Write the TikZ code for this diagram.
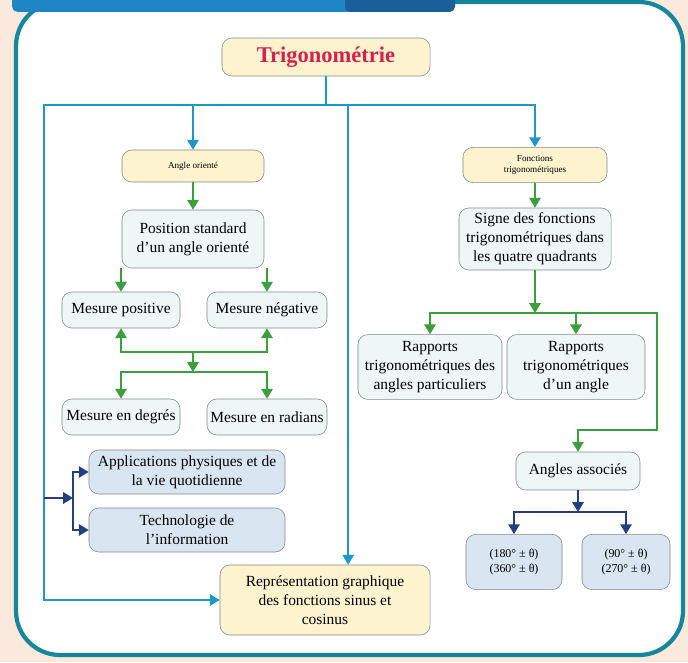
\documentclass[tikz,border=0pt]{standalone}
\usepackage{fontspec}
\setmainfont{Liberation Serif}
\usetikzlibrary{arrows.meta}
\definecolor{fond}{HTML}{FCE9DD}
\definecolor{cadre}{HTML}{16879A}
\definecolor{bandeau}{HTML}{1F86C6}
\definecolor{bandeaufonce}{HTML}{1A5F9A}
\definecolor{lignebleue}{HTML}{1E96C8}
\definecolor{vert}{HTML}{3C9E3C}
\definecolor{marine}{HTML}{243F7E}
\definecolor{bord}{HTML}{7D8B8B}
\definecolor{jaunec}{HTML}{FDF4CF}
\definecolor{clairc}{HTML}{EEF7F6}
\definecolor{bleuc}{HTML}{D9E6F2}
\definecolor{titre}{HTML}{D6204E}
\begin{document}
\begin{tikzpicture}[x=0.025cm, y=-0.025cm,
    boite/.style={draw=bord, rounded corners=7pt, align=center, inner sep=1pt,
                  font=\fontsize{11}{13.5}\selectfont},
    jaune/.style={boite, fill=jaunec},
    clair/.style={boite, fill=clairc},
    bleu/.style={boite, fill=bleuc},
    petit/.style={font=\fontsize{6.5}{8}\selectfont},
    moyen/.style={font=\fontsize{8.5}{11}\selectfont},
    fbleu/.style={-{Triangle[width=8pt,length=7pt]}, line width=1.6pt, draw=lignebleue},
    fvert/.style={-{Triangle[width=8pt,length=7pt]}, line width=1.6pt, draw=vert},
    fmarine/.style={-{Triangle[width=8pt,length=7pt]}, line width=1.6pt, draw=marine}
  ]
  \useasboundingbox (0,0) rectangle (688,662);
  \fill[fond] (0,0) rectangle (688,662);
  \draw[cadre, line width=3pt, fill=white, rounded corners=1.1cm] (16,2) rectangle (683,655);
  \fill[bandeau, rounded corners=4pt] (12,-20) rectangle (455,12);
  \fill[bandeaufonce, rounded corners=4pt] (345,-20) rectangle (455,12);

  % titre
  \node[jaune, minimum width=5.2cm, minimum height=0.95cm,
        font=\fontsize{16}{18}\selectfont\bfseries, text=titre] (trigo) at (326,57) {Trigonométrie};

  % partie gauche
  \node[jaune, petit, minimum width=3.55cm, minimum height=0.8cm] (angle) at (193,166) {Angle orienté};
  \node[clair, minimum width=3.55cm, minimum height=1.45cm] (position) at (193,239)
    {Position standard\\ d'un angle orienté};
  \node[clair, minimum width=2.95cm, minimum height=0.9cm] (mpos) at (121,310) {Mesure positive};
  \node[clair, minimum width=3.0cm, minimum height=0.9cm] (mneg) at (267,310) {Mesure négative};
  \node[clair, minimum width=2.95cm, minimum height=0.9cm] (mdeg) at (121,417) {Mesure en degrés};
  \node[clair, minimum width=3.0cm, minimum height=0.9cm] (mrad) at (267,417) {Mesure en radians};
  \node[bleu, minimum width=4.9cm, minimum height=1.1cm] (appli) at (187,472)
    {Applications physiques et de\\ la vie quotidienne};
  \node[bleu, minimum width=4.9cm, minimum height=1.1cm] (techno) at (187,530)
    {Technologie de\\ l'information};
  \node[jaune, minimum width=5.25cm, minimum height=1.75cm] (repr) at (325,600)
    {Représentation graphique\\ des fonctions sinus et\\ cosinus};

  % partie droite
  \node[jaune, petit, minimum width=3.6cm, minimum height=0.88cm] (fonc) at (535,165)
    {Fonctions\\ trigonométriques};
  \node[clair, minimum width=3.8cm, minimum height=1.55cm] (signe) at (535,239)
    {Signe des fonctions\\ trigonométriques dans\\ les quatre quadrants};
  \node[clair, minimum width=3.6cm, minimum height=1.62cm] (rap1) at (430,367)
    {Rapports\\ trigonométriques des\\ angles particuliers};
  \node[clair, minimum width=3.45cm, minimum height=1.62cm] (rap2) at (576,367)
    {Rapports\\ trigonométriques\\ d'un angle};
  \node[clair, minimum width=3.1cm, minimum height=0.95cm] (assoc) at (578,471) {Angles associés};
  \node[bleu, moyen, minimum width=2.4cm, minimum height=1.38cm] (ang1) at (514,562)
    {(180° ± θ)\\ (360° ± θ)};
  \node[bleu, moyen, minimum width=2.2cm, minimum height=1.38cm] (ang2) at (626,562)
    {(90° ± θ)\\ (270° ± θ)};

  % points de branchement
  \coordinate (j0) at (326,105);
  \coordinate (bordg) at (44,105);
  \coordinate (fourche) at (73,498);
  \coordinate (barre1) at (193,352);
  \coordinate (barre2) at (193,372);
  \coordinate (barre3) at (535,313);
  \coordinate (coude) at (657,430);
  \coordinate (barre4) at (578,512);

  % liaisons bleues
  \draw[line width=1.6pt, lignebleue] (trigo.south) -- (j0);
  \draw[fbleu] (j0) -| (angle.north);
  \draw[fbleu] (j0) -| (fonc.north);
  \draw[fbleu] (j0) -| ([xshift=0.58cm]repr.north);
  \draw[fbleu] (j0) -- (bordg) -- (bordg |- repr.west) -- (repr.west);

  % liaisons vertes
  \draw[fvert] (angle) -- (position);
  \draw[fvert] (mpos.north |- position.south) -- (mpos.north);
  \draw[fvert] (mneg.north |- position.south) -- (mneg.north);
  \draw[fvert] (barre1) -| (mpos.south);
  \draw[fvert] (barre1) -| (mneg.south);
  \draw[fvert] (barre1) -- (barre2);
  \draw[fvert] (barre2) -| (mdeg.north);
  \draw[fvert] (barre2) -| (mrad.north);
  \draw[fvert] (fonc) -- (signe);
  \draw[fvert] (signe) -- (barre3);
  \draw[fvert] (barre3) -| (rap1.north);
  \draw[fvert] (barre3) -| (rap2.north);
  \draw[fvert] (barre3) -| (coude) -| (assoc.north);

  % liaisons marine
  \draw[fmarine] (bordg |- fourche) -- (fourche);
  \draw[fmarine] (fourche) |- (appli.west);
  \draw[fmarine] (fourche) |- (techno.west);
  \draw[fmarine] (assoc) -- (barre4);
  \draw[fmarine] (barre4) -| (ang1.north);
  \draw[fmarine] (barre4) -| (ang2.north);
\end{tikzpicture}
\end{document}
